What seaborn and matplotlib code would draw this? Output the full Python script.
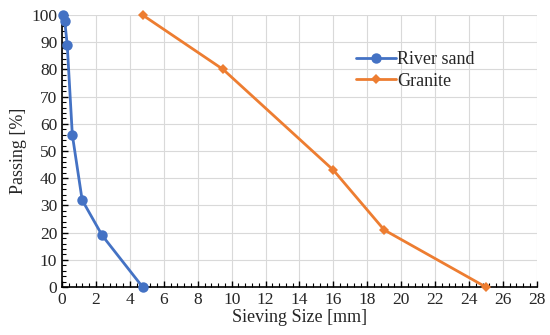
import matplotlib
matplotlib.use("Agg")
import matplotlib.pyplot as plt
import seaborn as sns
import pandas as pd
from matplotlib.ticker import MultipleLocator

sand_size = [0.075, 0.15, 0.3, 0.6, 1.18, 2.36, 4.75]
sand_pass = [100, 98, 89, 56, 32, 19, 0]
granite_size = [4.75, 9.5, 16, 19, 25]
granite_pass = [100, 80, 43, 21, 0]

df = pd.concat([
    pd.DataFrame({"size": sand_size, "pass": sand_pass, "material": "River sand"}),
    pd.DataFrame({"size": granite_size, "pass": granite_pass, "material": "Granite"}),
])

sns.set_style("white")
plt.rcParams['font.family'] = ['Liberation Serif', 'DejaVu Serif']

fig = plt.figure(figsize=(5.5, 3.35), dpi=100)
ax = fig.add_axes([0.113, 0.143, 0.863, 0.812])

palette = {"River sand": "#4472C4", "Granite": "#ED7D31"}
sns.lineplot(data=df, x="size", y="pass", hue="material", style="material",
             markers={"River sand": "o", "Granite": "D"}, dashes=False,
             palette=palette, linewidth=2, ax=ax, sort=False,
             markeredgewidth=0)
for line in ax.lines:
    line.set_clip_on(False)
    line.set_zorder(5)
    if line.get_marker() == "o":
        line.set_markersize(7.5)
    else:
        line.set_markersize(5)

ax.set_xlim(0, 28)
ax.set_ylim(0, 100)
ax.xaxis.set_major_locator(MultipleLocator(2))
ax.xaxis.set_minor_locator(MultipleLocator(0.4))
ax.yaxis.set_major_locator(MultipleLocator(10))
ax.yaxis.set_minor_locator(MultipleLocator(2))
ax.grid(True, which="major", color="#d9d9d9", linewidth=0.8)
ax.set_axisbelow(True)
for s in ["top", "right"]:
    ax.spines[s].set_visible(False)
for s in ["left", "bottom"]:
    ax.spines[s].set_color("black")
    ax.spines[s].set_linewidth(1.2)
ax.tick_params(which="both", direction="in", color="black", labelsize=12.5)
ax.tick_params(which="major", length=4, width=1)
ax.tick_params(which="minor", length=3, width=0.8)
ax.tick_params(axis="both", which="both", left=True, bottom=True)

ax.set_xlabel("Sieving Size [mm]", fontsize=13, labelpad=1)
ax.set_ylabel("Passing [%]", fontsize=13, labelpad=3)

leg = ax.legend(loc="upper left", bbox_to_anchor=(0.6, 0.9), frameon=False,
                fontsize=13, handlelength=2.2, handletextpad=0.1,
                labelspacing=0.25, borderpad=0)

fig.savefig("out.png", dpi=100)
